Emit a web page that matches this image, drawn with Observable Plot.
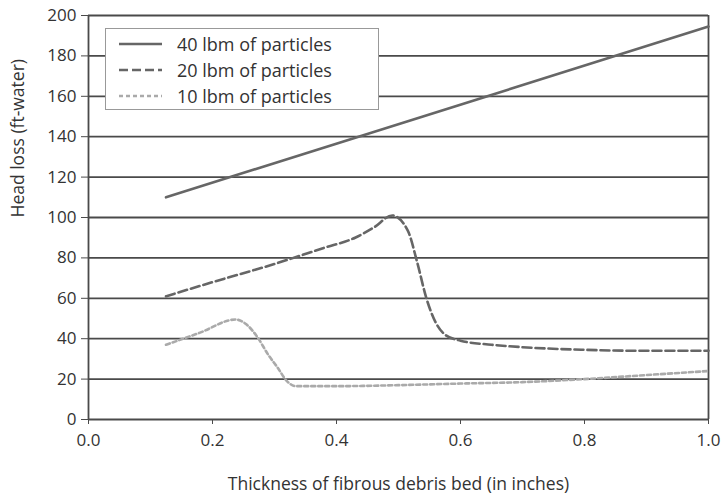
<!DOCTYPE html>
<html>
<head>
<meta charset="utf-8">
<script src="https://cdn.jsdelivr.net/npm/d3@7"></script>
<script src="https://cdn.jsdelivr.net/npm/@observablehq/plot@0.6"></script>
<style>
  html, body { margin: 0; padding: 0; background: #fff; }
  #wrap { position: relative; width: 727px; height: 501px; font-family: "Open Sans", sans-serif; }
  #legend { position: absolute; left: 105px; top: 28px; width: 274px; height: 82px; background: #fff;
    border: 1.5px solid #999; box-sizing: border-box; }
  .row { position: absolute; left: 0; height: 20px; display: flex; align-items: center; }
  .row svg { position: absolute; left: 13px; }
  .row span { position: absolute; left: 71px; white-space: nowrap; font-size: 18px; color: #333; line-height: 20px; }
</style>
</head>
<body>
<div id="wrap"></div>
<script>
// ---- data ----
const series = ["40 lbm of particles", "20 lbm of particles", "10 lbm of particles"];

const x40 = [0.125, 1.0];
const y40 = [110, 194.5];

const x20 = [0.125, 0.2, 0.3, 0.38, 0.43, 0.46, 0.49, 0.515, 0.53, 0.545, 0.56, 0.575, 0.6, 0.65, 0.7, 0.8, 0.9, 1.0];
const y20 = [61, 68, 77, 85, 90, 95, 101, 93.5, 78, 60, 48, 42, 39, 37, 35.8, 34.5, 34, 34];

const x10 = [0.125, 0.18, 0.237, 0.255, 0.272, 0.29, 0.305, 0.32, 0.335, 0.4, 0.5, 0.6, 0.7, 0.8, 0.9, 1.0];
const y10 = [37, 43, 49.5, 47, 41, 32, 25.7, 19, 16.5, 16.5, 17, 17.8, 18.5, 20, 22, 24];

const xTicks = [0, 0.2, 0.4, 0.6, 0.8, 1.0];
const yTicks = [0, 20, 40, 60, 80, 100, 120, 140, 160, 180, 200];

const xLabel = "Thickness of fibrous debris bed (in inches)";
const yLabel = "Head loss (ft-water)";

// ---- styles ----
const styles = [
  {stroke: "#666", strokeWidth: 2.6, strokeDasharray: null},
  {stroke: "#666", strokeWidth: 2.6, strokeDasharray: "9,4"},
  {stroke: "#aaa", strokeWidth: 2.6, strokeDasharray: "4,3"}
];

const toRows = (xs, ys) => xs.map((x, i) => ({x, y: ys[i]}));
const d40 = toRows(x40, y40), d20 = toRows(x20, y20), d10 = toRows(x10, y10);

const chart = Plot.plot({
  width: 727, height: 501,
  marginLeft: 88, marginRight: 19, marginTop: 15, marginBottom: 82,
  style: {fontFamily: "Open Sans, sans-serif", fontSize: "17px", color: "#333", background: "#fff"},
  x: {domain: [0, 1], label: null},
  y: {domain: [0, 200], label: null},
  marks: [
    Plot.ruleY(yTicks, {stroke: "#4a4a4a", strokeWidth: 1.8}),
    Plot.ruleX([0], {stroke: "#4a4a4a", strokeWidth: 1.8}),
    Plot.ruleX([1], {stroke: "#4a4a4a", strokeWidth: 1.8}),
    Plot.axisY({ticks: yTicks, tickSize: 7, tickPadding: 5, stroke: "#4a4a4a", fontSize: 17, fill: "#333"}),
    Plot.axisX({ticks: xTicks, tickSize: 5, tickPadding: 9, tickFormat: d3.format(".1f"), stroke: "#4a4a4a", fontSize: 17, fill: "#333"}),
    Plot.line(d40, {x: "x", y: "y", curve: "linear", ...styles[0]}),
    Plot.line(d20, {x: "x", y: "y", curve: "monotone-x", ...styles[1]}),
    Plot.line(d10, {x: "x", y: "y", curve: "monotone-x", ...styles[2]}),
    Plot.text([xLabel], {frameAnchor: "bottom", dy: 70, fontSize: 17.5, fill: "#333"}),
    Plot.text([yLabel], {frameAnchor: "left", dx: -70, rotate: -90, fontSize: 17.5, fill: "#333"})
  ]
});

const wrap = document.getElementById("wrap");
wrap.appendChild(chart);

// legend (HTML overlay)
const legend = document.createElement("div");
legend.id = "legend";
const rowTops = [5, 31, 57];
series.forEach((name, i) => {
  const row = document.createElement("div");
  row.className = "row";
  row.style.top = rowTops[i] + "px";
  const s = styles[i];
  row.innerHTML = `<svg width="44" height="20"><line x1="0" y1="10" x2="43" y2="10" stroke="${s.stroke}" stroke-width="${s.strokeWidth}" ${s.strokeDasharray ? `stroke-dasharray="${s.strokeDasharray}"` : ""}/></svg><span>${name}</span>`;
  legend.appendChild(row);
});
wrap.appendChild(legend);
</script>
</body>
</html>
